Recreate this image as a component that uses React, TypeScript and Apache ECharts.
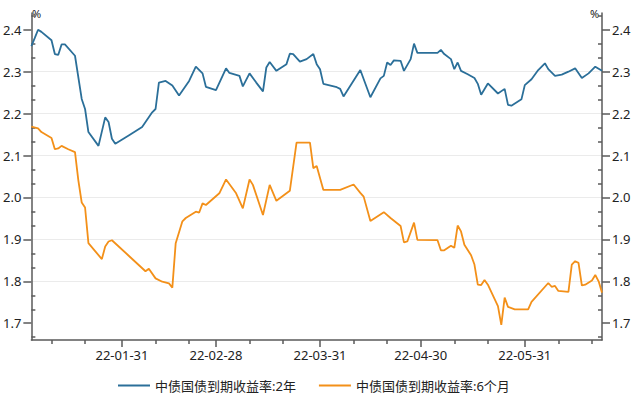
import React, { useEffect, useRef } from 'react';
import * as echarts from 'echarts';

const seriesNames = ['中债国债到期收益率:2年', '中债国债到期收益率:6个月'];
const seriesColors = ['#2b6f99', '#f39019'];

const dates2Y = [
  '2022-01-04', '2022-01-05', '2022-01-06', '2022-01-07', '2022-01-10', '2022-01-11', '2022-01-12', '2022-01-13',
  '2022-01-14', '2022-01-17', '2022-01-19', '2022-01-20', '2022-01-21', '2022-01-24', '2022-01-26', '2022-01-27',
  '2022-01-28', '2022-01-29', '2022-02-02', '2022-02-06', '2022-02-09', '2022-02-10', '2022-02-11', '2022-02-13',
  '2022-02-15', '2022-02-17', '2022-02-20', '2022-02-22', '2022-02-24', '2022-02-25', '2022-02-28', '2022-03-03',
  '2022-03-04', '2022-03-07', '2022-03-08', '2022-03-10', '2022-03-12', '2022-03-14', '2022-03-15', '2022-03-16',
  '2022-03-18', '2022-03-21', '2022-03-22', '2022-03-23', '2022-03-25', '2022-03-27', '2022-03-29', '2022-03-30',
  '2022-03-31', '2022-04-01', '2022-04-05', '2022-04-06', '2022-04-07', '2022-04-12', '2022-04-15', '2022-04-18',
  '2022-04-19', '2022-04-20', '2022-04-21', '2022-04-22', '2022-04-24', '2022-04-25', '2022-04-27', '2022-04-28',
  '2022-04-29', '2022-05-05', '2022-05-06', '2022-05-07', '2022-05-09', '2022-05-10', '2022-05-11', '2022-05-12',
  '2022-05-14', '2022-05-16', '2022-05-17', '2022-05-18', '2022-05-20', '2022-05-23', '2022-05-25', '2022-05-26',
  '2022-05-27', '2022-05-30', '2022-05-31', '2022-06-02', '2022-06-04', '2022-06-06', '2022-06-07', '2022-06-09',
  '2022-06-11', '2022-06-13', '2022-06-15', '2022-06-17', '2022-06-19', '2022-06-21', '2022-06-23'
];
const values2Y = [
  2.361, 2.38, 2.4, 2.395, 2.375, 2.342, 2.34, 2.365,
  2.365, 2.338, 2.235, 2.211, 2.156, 2.123, 2.191, 2.18,
  2.14, 2.128, 2.148, 2.168, 2.203, 2.211, 2.274, 2.278,
  2.267, 2.243, 2.278, 2.312, 2.296, 2.264, 2.256, 2.308,
  2.297, 2.29, 2.265, 2.296, 2.274, 2.253, 2.31, 2.323,
  2.302, 2.318, 2.343, 2.342, 2.324, 2.33, 2.342, 2.318,
  2.306, 2.271, 2.263, 2.259, 2.241, 2.304, 2.239, 2.284,
  2.29, 2.322, 2.316, 2.327, 2.326, 2.302, 2.33, 2.367,
  2.345, 2.345, 2.352, 2.342, 2.33, 2.306, 2.322, 2.302,
  2.294, 2.285, 2.271, 2.245, 2.272, 2.248, 2.259, 2.221,
  2.219, 2.234, 2.268, 2.282, 2.304, 2.32, 2.306, 2.29,
  2.293, 2.3, 2.308, 2.285, 2.296, 2.312, 2.302
];

const dates6M = [
  '2022-01-04', '2022-01-06', '2022-01-07', '2022-01-10', '2022-01-11', '2022-01-12', '2022-01-13', '2022-01-15',
  '2022-01-17', '2022-01-18', '2022-01-19', '2022-01-20', '2022-01-21', '2022-01-25', '2022-01-26', '2022-01-27',
  '2022-01-28', '2022-02-02', '2022-02-07', '2022-02-08', '2022-02-10', '2022-02-12', '2022-02-14', '2022-02-15',
  '2022-02-16', '2022-02-18', '2022-02-19', '2022-02-22', '2022-02-23', '2022-02-24', '2022-02-25', '2022-03-01',
  '2022-03-03', '2022-03-06', '2022-03-08', '2022-03-10', '2022-03-11', '2022-03-14', '2022-03-16', '2022-03-18',
  '2022-03-22', '2022-03-24', '2022-03-28', '2022-03-29', '2022-03-30', '2022-04-01', '2022-04-06', '2022-04-10',
  '2022-04-12', '2022-04-13', '2022-04-15', '2022-04-19', '2022-04-21', '2022-04-24', '2022-04-25', '2022-04-26',
  '2022-04-28', '2022-04-29', '2022-05-05', '2022-05-06', '2022-05-07', '2022-05-09', '2022-05-10', '2022-05-11',
  '2022-05-12', '2022-05-13', '2022-05-15', '2022-05-16', '2022-05-17', '2022-05-18', '2022-05-19', '2022-05-20',
  '2022-05-23', '2022-05-24', '2022-05-25', '2022-05-26', '2022-05-28', '2022-06-01', '2022-06-02', '2022-06-07',
  '2022-06-08', '2022-06-09', '2022-06-10', '2022-06-13', '2022-06-14', '2022-06-15', '2022-06-16', '2022-06-17',
  '2022-06-18', '2022-06-20', '2022-06-21', '2022-06-22', '2022-06-23'
];
const values6M = [
  2.169, 2.165, 2.156, 2.142, 2.115, 2.117, 2.123, 2.115,
  2.108, 2.041, 1.988, 1.976, 1.891, 1.853, 1.883, 1.895,
  1.898, 1.861, 1.824, 1.83, 1.807, 1.799, 1.795, 1.785,
  1.891, 1.943, 1.951, 1.966, 1.964, 1.986, 1.982, 2.01,
  2.043, 2.01, 1.974, 2.043, 2.03, 1.958, 2.03, 1.992,
  2.016, 2.131, 2.131, 2.07, 2.075, 2.018, 2.018, 2.031,
  2.011, 2.002, 1.944, 1.965, 1.951, 1.932, 1.893, 1.895,
  1.94, 1.899, 1.898, 1.874, 1.874, 1.885, 1.88, 1.933,
  1.919, 1.887, 1.862, 1.84, 1.792, 1.791, 1.803, 1.792,
  1.741, 1.696, 1.761, 1.739, 1.733, 1.733, 1.751, 1.796,
  1.787, 1.789, 1.777, 1.775, 1.84, 1.848, 1.844, 1.79,
  1.792, 1.802, 1.815, 1.8, 1.773
];

const xStart = '2022-01-04';
const xEnd = '2022-06-23';
const xMajorTicks = ['2022-01-31', '2022-02-28', '2022-03-31', '2022-04-30', '2022-05-31'];
const xMinorTicks = [
  '2022-01-10', '2022-01-20', '2022-02-10', '2022-02-20', '2022-03-10', '2022-03-20',
  '2022-04-10', '2022-04-20', '2022-05-10', '2022-05-20', '2022-06-10', '2022-06-20'
];
const yMin = 1.66;
const yMax = 2.44;
const yMajorTicks = [1.7, 1.8, 1.9, 2.0, 2.1, 2.2, 2.3, 2.4];
const yUnit = '%';

const FONT = "'Noto Sans', 'Noto Sans CJK SC', sans-serif";
const AXIS_COLOR = '#5a5a5a';
const TEXT_COLOR = '#222222';
const DAY = 86400000;

function toDay(s: string): number {
  const [y, m, d] = s.split('-').map(Number);
  return Date.UTC(y, m - 1, d) / DAY;
}
function pad(n: number): string {
  return n < 10 ? '0' + n : String(n);
}
function fmtDay(v: number): string {
  const d = new Date(Math.round(v) * DAY);
  return `${String(d.getUTCFullYear()).slice(2)}-${pad(d.getUTCMonth() + 1)}-${pad(d.getUTCDate())}`;
}

export default function App() {
  const ref = useRef<HTMLDivElement>(null);

  useEffect(() => {
    if (!ref.current) return;
    const chart = echarts.init(ref.current, undefined, { renderer: 'svg' });

    const yStep = yMajorTicks[1] - yMajorTicks[0];
    const yMinor: number[] = [];
    [yMajorTicks[0] - yStep, ...yMajorTicks].forEach((t) => {
      [1, 2].forEach((k) => {
        const v = t + (yStep * k) / 3;
        if (v > yMin && v < yMax) yMinor.push(+v.toFixed(4));
      });
    });

    const majorY = (position: 'left' | 'right', withSplit: boolean) => ({
      type: 'value',
      position,
      min: yMin,
      max: yMax,
      splitNumber: 8,
      axisLine: { show: true, lineStyle: { color: AXIS_COLOR, width: 1.5 } },
      axisTick: {
        show: true,
        inside: false,
        length: 8,
        customValues: yMajorTicks,
        lineStyle: { color: AXIS_COLOR, width: 1.5 },
      },
      axisLabel: {
        show: true,
        customValues: yMajorTicks,
        margin: 10,
        fontSize: 13,
        fontFamily: FONT,
        color: TEXT_COLOR,
        formatter: (v: number) => v.toFixed(1),
      },
      splitLine: {
        show: withSplit,
        showMinLine: false,
        showMaxLine: false,
        lineStyle: { color: '#ebebeb', width: 1 },
      },
    });
    const minorY = (position: 'left' | 'right') => ({
      type: 'value',
      position,
      min: yMin,
      max: yMax,
      axisLine: { show: false },
      axisTick: {
        show: true,
        inside: true,
        length: 4,
        customValues: yMinor,
        lineStyle: { color: AXIS_COLOR, width: 1.5 },
      },
      axisLabel: { show: false },
      splitLine: { show: false },
    });

    const xMin = toDay(xStart);
    const xMax = toDay(xEnd);

    chart.setOption({
      animation: false,
      textStyle: { fontFamily: FONT },
      grid: { left: 31, right: 38, top: 13, bottom: 54, containLabel: false },
      legend: {
        show: true,
        top: 374,
        left: 112,
        itemWidth: 32,
        itemHeight: 14,
        itemGap: 22,
        itemStyle: { opacity: 0 },
        textStyle: { fontSize: 13, color: TEXT_COLOR, fontFamily: FONT },
        data: seriesNames,
      },
      xAxis: [
        {
          type: 'value',
          position: 'bottom',
          min: xMin,
          max: xMax,
          axisLine: { show: true, lineStyle: { color: AXIS_COLOR, width: 1.5 } },
          axisTick: {
            show: true,
            length: 7,
            customValues: xMajorTicks.map(toDay),
            lineStyle: { color: AXIS_COLOR, width: 1.5 },
          },
          axisLabel: {
            show: true,
            customValues: xMajorTicks.map(toDay),
            formatter: (v: number) => fmtDay(v),
            margin: 8,
            fontSize: 13,
            fontFamily: FONT,
            color: TEXT_COLOR,
          },
          splitLine: { show: false },
        },
        {
          type: 'value',
          position: 'bottom',
          min: xMin,
          max: xMax,
          axisLine: { show: false },
          axisTick: {
            show: true,
            length: 4,
            customValues: xMinorTicks.map(toDay),
            lineStyle: { color: AXIS_COLOR, width: 1.5 },
          },
          axisLabel: { show: false },
          splitLine: { show: false },
        },
      ],
      yAxis: [majorY('left', true), minorY('left'), majorY('right', false), minorY('right')],
      graphic: [
        {
          type: 'text',
          left: 32,
          top: 8,
          style: { text: yUnit, fontSize: 11, fontFamily: FONT, fill: TEXT_COLOR },
        },
        {
          type: 'text',
          left: 590,
          top: 8,
          style: { text: yUnit, fontSize: 11, fontFamily: FONT, fill: TEXT_COLOR },
        },
      ],
      series: [
        {
          name: seriesNames[0],
          type: 'line',
          xAxisIndex: 0,
          yAxisIndex: 0,
          symbol: 'none',
          color: seriesColors[0],
          lineStyle: { width: 1.8, color: seriesColors[0] },
          data: dates2Y.map((d, i) => [toDay(d), values2Y[i]]),
        },
        {
          name: seriesNames[1],
          type: 'line',
          xAxisIndex: 0,
          yAxisIndex: 0,
          symbol: 'none',
          color: seriesColors[1],
          lineStyle: { width: 1.8, color: seriesColors[1] },
          data: dates6M.map((d, i) => [toDay(d), values6M[i]]),
        },
      ],
    });

    return () => chart.dispose();
  }, []);

  return (
    <div
      ref={ref}
      style={{ position: 'fixed', left: 0, top: 0, width: 640, height: 394, background: '#ffffff' }}
    />
  );
}
